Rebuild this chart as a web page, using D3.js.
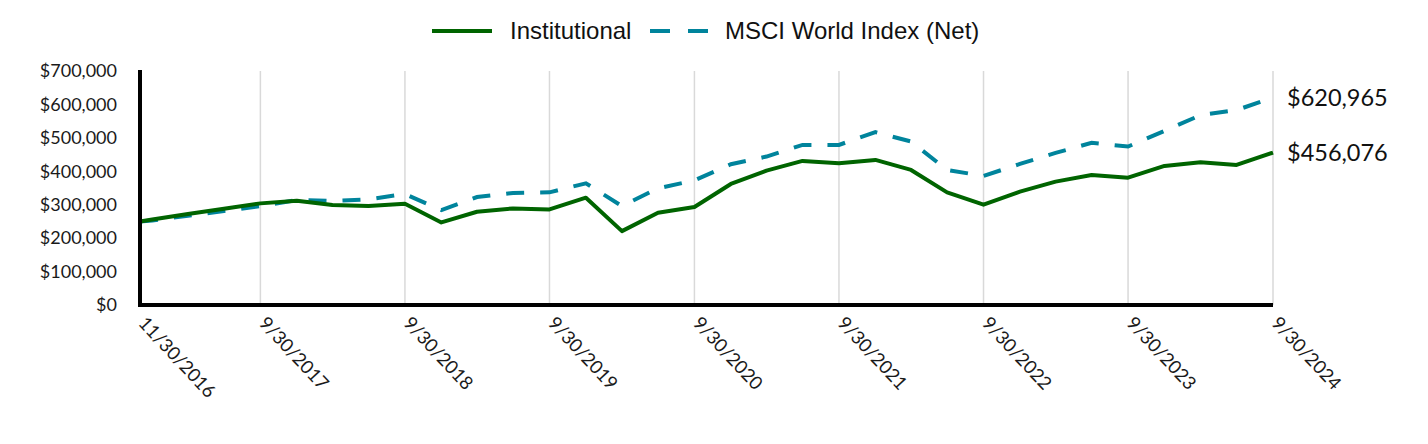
<!DOCTYPE html>
<html><head><meta charset="utf-8">
<script src="https://cdn.jsdelivr.net/npm/d3@7"></script>
<style>body{margin:0;background:#fff}svg{display:block}</style>
</head><body>
<svg id="c" width="1428" height="444"></svg>
<script>
const dates = ["2016-11-30","2016-12-31","2017-03-31","2017-06-30","2017-09-30","2017-12-31","2018-03-31","2018-06-30","2018-09-30","2018-12-31","2019-03-31","2019-06-30","2019-09-30","2019-12-31","2020-03-31","2020-06-30","2020-09-30","2020-12-31","2021-03-31","2021-06-30","2021-09-30","2021-12-31","2022-03-31","2022-06-30","2022-09-30","2022-12-31","2023-03-31","2023-06-30","2023-09-30","2023-12-31","2024-03-31","2024-06-30","2024-09-30"];
const institutional = [250000,256000,272000,288000,304000,312000,299000,296000,303000,247000,279000,289000,286000,321000,221000,276000,293000,362000,402000,431000,424000,434000,404000,337000,300000,339000,369000,389000,381000,416000,427000,419000,456076];
const msci = [250000,253000,267000,281000,296000,314000,311000,316000,332000,284000,323000,335000,337000,364000,296000,349000,373000,421000,444000,479000,479000,517000,489000,404000,386000,422000,455000,485000,474000,521000,568000,583000,620965];
const tickDates = ["2016-11-30","2017-09-30","2018-09-30","2019-09-30","2020-09-30","2021-09-30","2022-09-30","2023-09-30","2024-09-30"];
const tickLabels = ["11/30/2016","9/30/2017","9/30/2018","9/30/2019","9/30/2020","9/30/2021","9/30/2022","9/30/2023","9/30/2024"];
const yTicks = [0,100000,200000,300000,400000,500000,600000,700000];
const seriesNames = ["Institutional","MSCI World Index (Net)"];
const endLabels = ["$456,076","$620,965"];

const parse = d3.timeParse("%Y-%m-%d");
const svg = d3.select("#c");
const font = "Lato, 'Noto Sans', sans-serif";
const x = d3.scaleTime().domain([parse(dates[0]), parse(dates[dates.length-1])]).range([140, 1273]);
const y = d3.scaleLinear().domain([0, 700000]).range([305, 71]);
const green = "#006400", teal = "#00849c";

// vertical gridlines
svg.append("g").selectAll("line").data(tickDates.slice(1)).join("line")
  .attr("x1", d => x(parse(d))).attr("x2", d => x(parse(d)))
  .attr("y1", y(700000)).attr("y2", y(0))
  .attr("stroke", "#d9d9d9").attr("stroke-width", 1.5);

// y axis labels
const yAxis = d3.axisLeft(y).tickValues(yTicks).tickSize(0).tickPadding(0)
  .tickFormat(d => "$" + d3.format(",")(d));
const gy = svg.append("g").attr("transform", "translate(117,0)").call(yAxis);
gy.select(".domain").remove();
gy.selectAll("text").attr("font-family", font).attr("font-size", 18).attr("fill", "#1a1a1a");

// x axis labels rotated
const xAxis = d3.axisBottom(x).tickValues(tickDates.map(parse)).tickSize(0)
  .tickFormat((d, i) => tickLabels[i]);
const gx = svg.append("g").attr("transform", "translate(0,305)").call(xAxis);
gx.select(".domain").remove();
gx.selectAll("text").attr("font-family", font).attr("font-size", 18.5).attr("fill", "#1a1a1a")
  .attr("text-anchor", "start").attr("dy", 0).attr("y", 0)
  .attr("transform", "translate(-3,19) rotate(47)");

// lines
const pts = vals => vals.map((v, i) => [x(parse(dates[i])), y(v)]);
const line = d3.line();
svg.append("path").attr("d", line(pts(msci))).attr("fill", "none")
  .attr("stroke", teal).attr("stroke-width", 4).attr("stroke-dasharray", "18,16");
svg.append("path").attr("d", line(pts(institutional))).attr("fill", "none")
  .attr("stroke", green).attr("stroke-width", 4).attr("stroke-linejoin", "round");

// axes lines
svg.append("line").attr("x1", 140).attr("x2", 140).attr("y1", y(700000) - 1).attr("y2", y(0) + 2)
  .attr("stroke", "#000").attr("stroke-width", 4);
svg.append("line").attr("x1", 138).attr("x2", x(parse(dates[dates.length-1]))).attr("y1", y(0)).attr("y2", y(0))
  .attr("stroke", "#000").attr("stroke-width", 4);

// end labels
const lastX = x(parse(dates[dates.length-1]));
[[institutional, endLabels[0]], [msci, endLabels[1]]].forEach(([s, t]) => {
  svg.append("text").attr("x", lastX + 14).attr("y", y(s[s.length-1])).attr("dy", "0.35em")
    .attr("font-family", font).attr("font-size", 23.5).attr("fill", "#111").text(t);
});

// legend
const lg = svg.append("g");
lg.append("line").attr("x1", 432).attr("x2", 492).attr("y1", 31).attr("y2", 31)
  .attr("stroke", green).attr("stroke-width", 4);
lg.append("text").attr("x", 510).attr("y", 31).attr("dy", "0.35em")
  .attr("font-family", "'Liberation Sans', Arial, sans-serif").attr("font-size", 24).attr("fill", "#111").text(seriesNames[0]);
lg.append("line").attr("x1", 650).attr("x2", 710).attr("y1", 31).attr("y2", 31)
  .attr("stroke", teal).attr("stroke-width", 4).attr("stroke-dasharray", "20,18");
lg.append("text").attr("x", 725).attr("y", 31).attr("dy", "0.35em")
  .attr("font-family", "'Liberation Sans', Arial, sans-serif").attr("font-size", 24).attr("fill", "#111").text(seriesNames[1]);
</script>
</body></html>
